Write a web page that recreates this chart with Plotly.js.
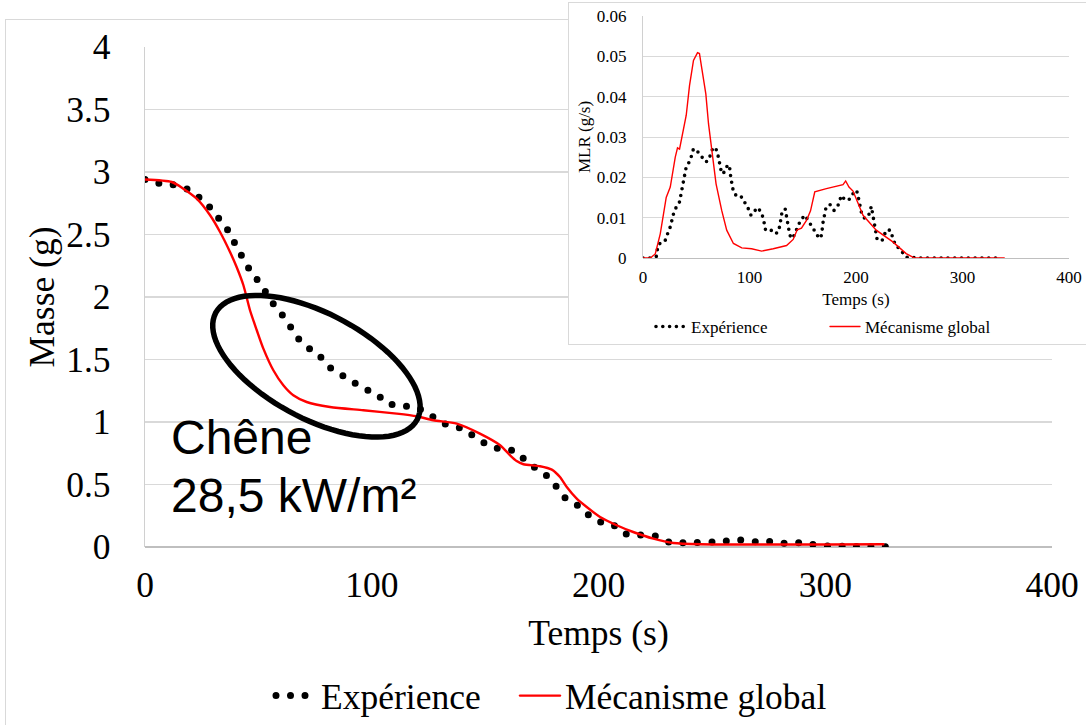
<!DOCTYPE html>
<html><head><meta charset="utf-8">
<script src="https://cdn.plot.ly/plotly-3.0.1.min.js"></script>
<style>
html,body{margin:0;padding:0;background:#fff;width:1086px;height:725px;overflow:hidden;position:relative;}
#frame{position:absolute;left:5px;top:19px;width:1200px;height:800px;border:1px solid #d9d9d9;}
#main{position:absolute;left:0;top:0;width:1086px;height:725px;}
#insetWrap{position:absolute;left:568px;top:2px;width:540px;height:341px;border:1px solid #d9d9d9;background:#fff;overflow:hidden;}
#inset{position:absolute;left:0;top:0;width:530px;height:341px;}
path.js-line{stroke-linecap:round;}
.legendlines path{stroke-linecap:round;}
</style></head><body>
<div id="frame"></div>
<div id="main"></div>
<div id="insetWrap"><div id="inset"></div></div>
<script>
// ---- Main chart: mass vs time ----
const expT = [0, 6, 12, 18, 23, 28, 32, 36, 39, 42, 45, 49, 52.5, 56, 60, 63.5, 67, 71.5, 76.5, 80.5, 85.5, 91, 96, 102, 106.5, 113, 119, 125, 130, 135, 141, 146, 151, 157, 163, 168, 173, 178, 182, 186, 191, 196, 201, 207, 212, 218, 225, 231, 237, 243, 250, 256, 262, 269, 275, 281, 287, 294, 300, 310, 320, 332];
const expM = [2.94, 2.91, 2.90, 2.87, 2.81, 2.73, 2.64, 2.55, 2.45, 2.35, 2.25, 2.15, 2.06, 1.96, 1.87, 1.78, 1.68, 1.60, 1.54, 1.45, 1.39, 1.33, 1.27, 1.23, 1.15, 1.13, 1.12, 1.07, 1.0, 0.97, 0.94, 0.87, 0.82, 0.78, 0.77, 0.69, 0.62, 0.56, 0.47, 0.38, 0.33, 0.25, 0.20, 0.17, 0.105, 0.097, 0.088, 0.04, 0.035, 0.035, 0.04, 0.048, 0.056, 0.042, 0.045, 0.03, 0.035, 0.022, 0.008, 0.005, 0.003, 0];
const modT = [0, 11.8, 16.9, 22.8, 28.7, 33.1, 37.5, 40.4, 43.4, 46.3, 49.3, 52.2, 56.6, 61, 65.4, 71.3, 81.6, 96.3, 111, 119.8, 127.1, 137.5, 147.7, 156.6, 161, 163.9, 166.9, 174.2, 179.4, 183, 186, 190.4, 194.8, 200.7, 208, 215.3, 224.2, 233, 244.8, 325.6];
const modM = [2.94, 2.92, 2.867, 2.787, 2.654, 2.52, 2.36, 2.24, 2.094, 1.894, 1.734, 1.587, 1.414, 1.294, 1.214, 1.16, 1.12, 1.094, 1.067, 1.046, 1.014, 0.987, 0.907, 0.814, 0.734, 0.688, 0.662, 0.646, 0.619, 0.56, 0.48, 0.387, 0.32, 0.24, 0.174, 0.12, 0.067, 0.032, 0.022, 0.022];

// ---- Inset: MLR vs time ----
const mlrExpT = [0, 8, 12.5, 14, 17.8, 20.9, 23.1, 25.6, 28.7, 31.2, 34.3, 36.5, 38.7, 40.6, 44.3, 47.4, 51.5, 55.2, 59, 62.1, 63.6, 66.1, 69.3, 70.8, 72.4, 73.9, 76.4, 79.3, 81.1, 82.4, 84.9, 88.6, 92.7, 95.8, 98.9, 101.4, 104.5, 107.6, 110.8, 113, 115.1, 119.8, 123.9, 127, 128.5, 130.4, 133.5, 135.4, 137.9, 140.4, 142.6, 145.7, 147.9, 152, 155.1, 159.8, 162.9, 165.4, 167.6, 169.1, 171.6, 175.4, 179.4, 183.2, 186.3, 189.4, 192.8, 195.6, 198.8, 201.2, 203.4, 205, 208.1, 211.9, 214.4, 215.9, 217.5, 219.7, 224.3, 228.4, 232.1, 234.6, 237.1, 240.9, 244, 247.1, 260, 300, 333];
const mlrExpV = [0, 0, 0.0004, 0.003, 0.0042, 0.0044, 0.006, 0.0077, 0.011, 0.0126, 0.0139, 0.0172, 0.0193, 0.0226, 0.0242, 0.0271, 0.0263, 0.0252, 0.0238, 0.0244, 0.026, 0.0275, 0.0267, 0.025, 0.023, 0.0209, 0.0213, 0.023, 0.023, 0.020, 0.0164, 0.0151, 0.0151, 0.0137, 0.0122, 0.0106, 0.0117, 0.0125, 0.0114, 0.0098, 0.0069, 0.007, 0.006, 0.0064, 0.0081, 0.0112, 0.0122, 0.0088, 0.0056, 0.0048, 0.006, 0.0077, 0.0093, 0.0106, 0.0093, 0.0077, 0.006, 0.0048, 0.0056, 0.0089, 0.0122, 0.0133, 0.0118, 0.0131, 0.0155, 0.0145, 0.0143, 0.0151, 0.0168, 0.0163, 0.0139, 0.0114, 0.0098, 0.0106, 0.0128, 0.0102, 0.0077, 0.0048, 0.0042, 0.0069, 0.0069, 0.0048, 0.0031, 0.0023, 0.0011, 0.0002, 0, 0, 0];
const mlrModT = [0, 6.9, 11.5, 16.2, 21.8, 25.6, 30.3, 32.4, 34.3, 38.1, 40.6, 43.7, 47.4, 51.2, 53, 55.2, 57.4, 59, 61.5, 64.6, 68.6, 73.9, 78.6, 84.9, 92.7, 102, 111.4, 122.3, 134.8, 141, 144.8, 148.8, 153.5, 157.3, 161.3, 172.2, 187.8, 190.3, 193.4, 197.2, 206.6, 219, 234.6, 247.1, 254.9, 339.2];
const mlrModV = [0, 0, 0.001, 0.006, 0.015, 0.0176, 0.025, 0.0273, 0.027, 0.0325, 0.0354, 0.0428, 0.049, 0.0509, 0.0507, 0.047, 0.0432, 0.0407, 0.0333, 0.0267, 0.0184, 0.0118, 0.0069, 0.0036, 0.0025, 0.0023, 0.0017, 0.0023, 0.0031, 0.0046, 0.007, 0.0074, 0.0093, 0.0117, 0.0164, 0.0172, 0.0182, 0.0191, 0.0176, 0.0166, 0.0106, 0.0069, 0.004, 0.0011, 0, 0];

const seriesNames = ['Expérience', 'Mécanisme global'];
const annotationLines = ['Chêne', '28,5 kW/m²'];

const SERIF = 'Liberation Serif, Times New Roman, serif';
const SANS = 'Liberation Sans, Arial, sans-serif';
const FS = 35.5;   // main chart serif font size
const IFS = 17;    // inset font size

// ----- main layout geometry -----
const W = 1086, H = 725;
const M = {l:145, r:34, t:47, b:178};
const plotW = W - M.l - M.r, plotH = H - M.t - M.b;
const xRange = [0, 400], yRange = [0, 4];
const pxPerX = plotW / (xRange[1]-xRange[0]);
const pxPerY = plotH / (yRange[1]-yRange[0]);

// callout ellipse (centre in data units, radii in px, tilt in degrees)
const ell = {cx: 75.6, cy: 1.446, a: 114, b: 52.7, tilt: 27.9};
function ellipsePath(e){
  const th = e.tilt*Math.PI/180;
  let d = '';
  const n = 90;
  for(let i=0;i<=n;i++){
    const p = 2*Math.PI*i/n;
    const dx = e.a*Math.cos(p)*Math.cos(th) - e.b*Math.sin(p)*Math.sin(th);
    const dy = e.a*Math.cos(p)*Math.sin(th) + e.b*Math.sin(p)*Math.cos(th);
    const x = e.cx + dx/pxPerX, y = e.cy - dy/pxPerY;
    d += (i===0?'M':'L') + x.toFixed(3) + ',' + y.toFixed(4);
  }
  return d + 'Z';
}

const mainTraces = [
  {x: expT, y: expM, mode:'lines', name: seriesNames[0], legend:'legend',
   line:{color:'#000', width:7, dash:'0px,14.5px', shape:'spline', smoothing:0.5}},
  {x: modT, y: modM, mode:'lines', name: seriesNames[1], legend:'legend2',
   line:{color:'#ff0000', width:2.4, shape:'spline', smoothing:0.7}}
];

const legBase = {orientation:'h', xanchor:'left', yanchor:'middle', bgcolor:'rgba(0,0,0,0)',
  borderwidth:0, itemwidth:40, font:{family:SERIF, size:FS, color:'#000'}};

const mainLayout = {
  width: W, height: H,
  margin: {l:M.l, r:M.r, t:M.t, b:M.b, pad:0, autoexpand:false},
  paper_bgcolor:'rgba(0,0,0,0)', plot_bgcolor:'rgba(0,0,0,0)',
  font:{family:SERIF, size:FS, color:'#000'},
  showlegend:true,
  xaxis:{range:xRange, dtick:100, tick0:0, showgrid:false, zeroline:false, showline:false,
    ticks:'', ticklabelstandoff:13, automargin:true, fixedrange:true,
    tickfont:{family:SERIF, size:FS, color:'#000'},
    title:{text:'Temps (s)', standoff:16, font:{family:SERIF, size:FS, color:'#000'}}},
  yaxis:{range:yRange, dtick:0.5, tick0:0, showgrid:true, gridcolor:'#d9d9d9', gridwidth:1.3,
    zeroline:true, zerolinecolor:'#bfbfbf', zerolinewidth:1.3,
    showline:true, linecolor:'#d0d0d0', linewidth:1.3, ticks:'', ticklabelstandoff:26,
    automargin:true, fixedrange:true,
    tickfont:{family:SERIF, size:FS, color:'#000'},
    title:{text:'Masse (g)', standoff:0, font:{family:SERIF, size:FS, color:'#000'}}},
  legend: Object.assign({}, legBase, {x:(271-M.l)/plotW, y:(M.t+plotH-696)/plotH}),
  legend2: Object.assign({}, legBase, {x:(515-M.l)/plotW, y:(M.t+plotH-696)/plotH}),
  shapes:[{type:'path', xref:'x', yref:'y', path: ellipsePath(ell), line:{color:'#000', width:5.5}, layer:'above'}],
  annotations:[
    {x:10.6, y:0.878, xref:'x', yref:'y', xanchor:'left', yanchor:'middle', showarrow:false,
     align:'left', text: annotationLines[0], font:{family:SANS, size:48, color:'#000'}},
    {x:10.6, y:0.414, xref:'x', yref:'y', xanchor:'left', yanchor:'middle', showarrow:false,
     align:'left', text: annotationLines[1], font:{family:SANS, size:48, color:'#000'}}
  ]
};

Plotly.newPlot('main', mainTraces, mainLayout, {staticPlot:true, displayModeBar:false});

// ----- inset -----
const IW = 530, IH = 341;
const IM = {l:74, r:30, t:13, b:86};
const iPlotH = IH - IM.t - IM.b, iPlotW = IW - IM.l - IM.r;

const insetTraces = [
  {x: mlrExpT, y: mlrExpV, mode:'lines', name: seriesNames[0], legend:'legend',
   line:{color:'#000', width:3.6, dash:'0px,6.8px'}},
  {x: mlrModT, y: mlrModV, mode:'lines', name: seriesNames[1], legend:'legend2',
   line:{color:'#ff0000', width:1.4}}
];
const iLegBase = {orientation:'h', xanchor:'left', yanchor:'middle', bgcolor:'rgba(0,0,0,0)',
  borderwidth:0, itemwidth:30, font:{family:SERIF, size:IFS, color:'#000'}};

const insetLayout = {
  width: IW, height: IH,
  margin:{l:IM.l, r:IM.r, t:IM.t, b:IM.b, pad:0, autoexpand:false},
  paper_bgcolor:'#fff', plot_bgcolor:'#fff',
  font:{family:SERIF, size:IFS, color:'#000'},
  showlegend:true,
  xaxis:{range:[0,400], dtick:100, tick0:0, showgrid:false, zeroline:false, showline:false,
    ticks:'', ticklabelstandoff:7, automargin:true, fixedrange:true,
    tickfont:{family:SERIF, size:IFS, color:'#000'},
    title:{text:'Temps (s)', standoff:7, font:{family:SERIF, size:IFS, color:'#000'}}},
  yaxis:{range:[0,0.06], dtick:0.01, tick0:0, showgrid:true, gridcolor:'#d9d9d9', gridwidth:1,
    zeroline:true, zerolinecolor:'#bfbfbf', zerolinewidth:1,
    showline:true, linecolor:'#d0d0d0', linewidth:1, ticks:'', ticklabelstandoff:12,
    automargin:true, fixedrange:true,
    tickfont:{family:SERIF, size:IFS, color:'#000'},
    title:{text:'MLR (g/s)', standoff:1, font:{family:SERIF, size:IFS, color:'#000'}}},
  legend: Object.assign({}, iLegBase, {x:(651-569-IM.l)/iPlotW, y:(IM.t+iPlotH-324)/iPlotH}),
  legend2: Object.assign({}, iLegBase, {x:(825-569-IM.l)/iPlotW, y:(IM.t+iPlotH-324)/iPlotH})
};

Plotly.newPlot('inset', insetTraces, insetLayout, {staticPlot:true, displayModeBar:false});
</script>
</body></html>
